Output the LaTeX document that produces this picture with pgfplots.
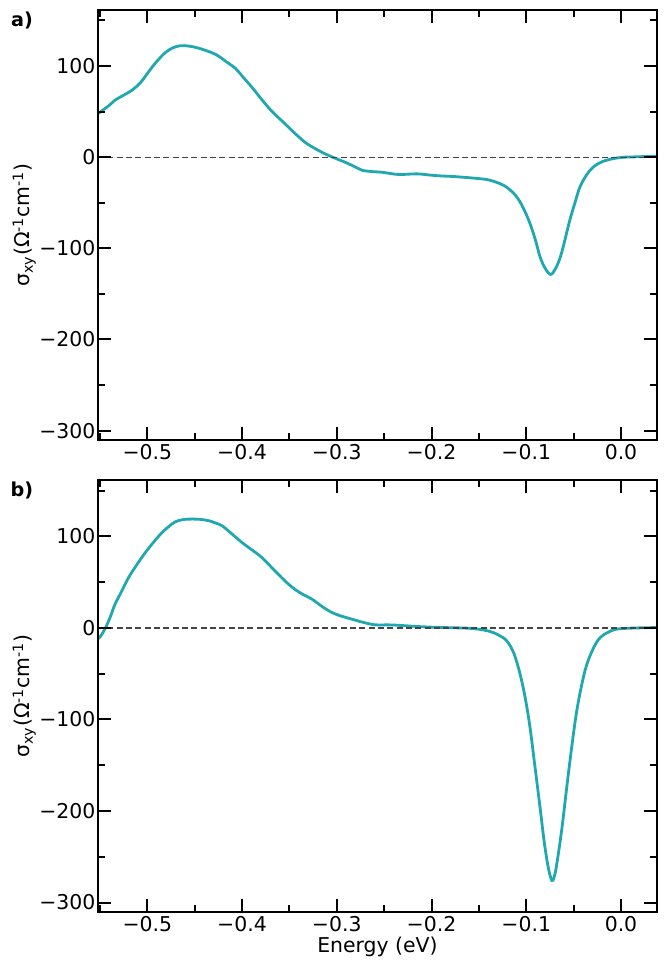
\documentclass[border=0pt]{standalone}
\usepackage{fontspec}
\setmainfont{DejaVu Sans}
\usepackage{pgfplots}
\pgfplotsset{compat=1.18}
\definecolor{teal1}{HTML}{20A8B0}
\definecolor{dashgray}{HTML}{444444}
\pgfplotsset{
  myax/.style={
    scale only axis, width=419.25pt,
    xmin=-0.552, xmax=0.038, ymin=-310.3, ymax=161.5,
    axis on top,
    axis line style={line width=1.9pt},
    every tick/.style={line width=1.5pt, black},
    major tick length=10pt, minor tick length=5pt,
    tick align=inside,
    xtick pos=both, ytick pos=both,
    xticklabel pos=bottom, yticklabel pos=left,
    xtick={-0.5,-0.4,-0.3,-0.2,-0.1,0},
    xticklabels={−0.5,−0.4,−0.3,−0.2,−0.1,0.0},
    minor xtick={-0.55,-0.45,-0.35,-0.25,-0.15,-0.05},
    ytick={-300,-200,-100,0,100},
    yticklabels={−300,−200,−100,0,100},
    minor ytick={-250,-150,-50,50,150},
    tick label style={font=\fontsize{15.3}{18}\selectfont},
    yticklabel style={xshift=1.5pt},
    label style={font=\fontsize{15.3}{18}\selectfont},
    ylabel={σ\textsubscript{xy}(Ω\textsuperscript{-1}cm\textsuperscript{-1})},
    ylabel style={at={(axis description cs:-0.132,0.5)}, anchor=center},
  },
  curve/.style={teal1, line width=2.1pt, smooth, tension=0.6},
  zero/.style={dashgray, line width=1pt, dash pattern=on 4.5pt off 2.5pt},
}
\begin{document}
\begin{tikzpicture}
\path[use as bounding box] (0,0) rectangle (500.25pt,720pt);
\begin{axis}[myax, height=322.5pt, at={(73.5pt,390pt)}, anchor=south west]
\addplot[curve] coordinates {
(-0.552,48) (-0.549,50) (-0.540,57) (-0.534,62.6) (-0.525,68) (-0.516,73.6)
(-0.507,82) (-0.4986,93.7) (-0.490,105) (-0.481,114.7) (-0.473,120)
(-0.465,122.3) (-0.457,122) (-0.449,120.5) (-0.438,117) (-0.4265,112)
(-0.417,105) (-0.407,97.5) (-0.399,88) (-0.390,77.3) (-0.379,63) (-0.368,49.8)
(-0.356,38) (-0.344,26) (-0.333,16) (-0.323,9.5) (-0.314,4.5) (-0.305,0.3)
(-0.296,-3.5) (-0.288,-7) (-0.280,-11) (-0.2735,-14.3) (-0.263,-15.8)
(-0.2524,-16.5) (-0.243,-18) (-0.233,-19) (-0.2155,-18.3) (-0.203,-19.5)
(-0.191,-20.5) (-0.177,-21.2) (-0.163,-22.3) (-0.152,-23.3) (-0.1417,-24.5)
(-0.133,-27) (-0.124,-30.8) (-0.117,-36) (-0.110,-43.6) (-0.103,-56)
(-0.096,-72.9) (-0.090,-92) (-0.0854,-109.5) (-0.080,-122) (-0.0742,-128.6)
(-0.069,-122) (-0.064,-109.5) (-0.059,-90) (-0.054,-69) (-0.048,-48)
(-0.0433,-32.6) (-0.036,-19) (-0.029,-10.6) (-0.020,-5) (-0.008,-1.5)
(0.003,0) (0.013,0.3) (0.025,0.7) (0.036,1) (0.040,1)
};
\addplot[zero] coordinates {(-0.552,0) (0.038,0)};
\end{axis}
\begin{axis}[myax, height=324pt, at={(73.5pt,36pt)}, anchor=south west,
  xlabel={Energy (eV)},
  xlabel style={at={(axis description cs:0.5,0)}, yshift=-26pt, anchor=center}]
\addplot[curve] coordinates {
(-0.552,-12) (-0.549,-8.7) (-0.544,0.3) (-0.539,12) (-0.534,25.9) (-0.527,40)
(-0.5197,55) (-0.511,69) (-0.502,82.3) (-0.493,94) (-0.4845,104)
(-0.4775,110.5) (-0.4705,115.8) (-0.462,118.3) (-0.453,118.8) (-0.444,118.5)
(-0.435,117) (-0.428,114.5) (-0.421,111.5) (-0.410,102) (-0.400,93.2)
(-0.390,85.5) (-0.379,76.8) (-0.365,62) (-0.351,47.8) (-0.339,38.5)
(-0.3263,31.4) (-0.315,23) (-0.305,16.7) (-0.295,12.8) (-0.284,9.5)
(-0.272,6) (-0.2595,3.3) (-0.248,3.3) (-0.238,3) (-0.22,1.8) (-0.205,1)
(-0.185,0.3) (-0.163,-0.3) (-0.150,-1.5) (-0.138,-4) (-0.129,-8)
(-0.1206,-14.2) (-0.113,-28) (-0.1065,-50.6) (-0.101,-77) (-0.096,-109)
(-0.091,-150) (-0.0854,-196.4) (-0.081,-234) (-0.0767,-262) (-0.073,-275.8)
(-0.0705,-272) (-0.0678,-258) (-0.0625,-220) (-0.0573,-174.5) (-0.052,-130)
(-0.0467,-90.7) (-0.041,-60) (-0.036,-39.7) (-0.029,-22) (-0.022,-10.6)
(-0.013,-4.5) (-0.0045,-1.4) (0.010,-0.3) (0.034,0.3) (0.040,0.3)
};
\addplot[zero] coordinates {(-0.552,0) (0.038,0)};
\end{axis}
\node[font=\bfseries\fontsize{14.4}{17}\selectfont] at (16.5pt,705pt) {a)};
\node[font=\bfseries\fontsize{14.4}{17}\selectfont] at (16.5pt,352pt) {b)};
\end{tikzpicture}
\end{document}
